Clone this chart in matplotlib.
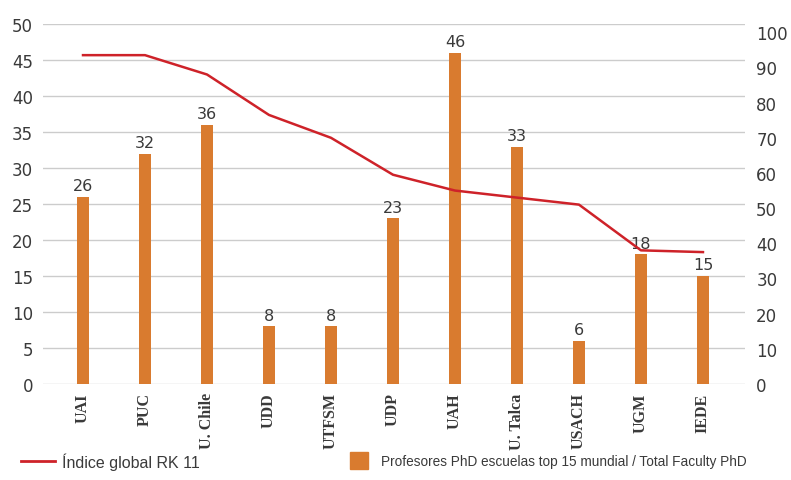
import matplotlib
matplotlib.use("Agg")
import matplotlib.pyplot as plt
from matplotlib.lines import Line2D
from matplotlib.patches import Rectangle

# data
schools = ["UAI", "PUC", "U. Chile", "UDD", "UTFSM", "UDP", "UAH", "U. Talca", "USACH", "UGM", "IEDE"]
phd_top15 = [26, 32, 36, 8, 8, 23, 46, 33, 6, 18, 15]
indice_rk11 = [93.5, 93.5, 88, 76.5, 70, 59.5, 55, 53, 51, 38, 37.5]

left_ticks = [0, 5, 10, 15, 20, 25, 30, 35, 40, 45, 50]
right_ticks = [0, 10, 20, 30, 40, 50, 60, 70, 80, 90, 100]

bar_color = "#D97B2F"
line_color = "#CE2229"
text_color = "#3a3a3a"
grid_color = "#cccccc"
legend_font = ["Liberation Sans", "DejaVu Sans"]

fig = plt.figure(figsize=(7.91, 4.81), dpi=100)
ax = fig.add_axes([0.054, 0.1996, 0.888, 0.748])
x = list(range(len(schools)))

ax.bar(x, phd_top15, width=0.2, color=bar_color, zorder=2)
for xi, v in zip(x, phd_top15):
    ax.text(xi, v + 0.5, str(v), ha="center", va="bottom", fontsize=11.5,
            color=text_color, zorder=4)

ax.set_ylim(0, 50)
ax.set_xlim(-0.65, 10.68)
ax.set_yticks(left_ticks)
ax.set_yticklabels([str(t) for t in left_ticks], fontsize=12, color=text_color)
ax.yaxis.grid(True, color=grid_color, linewidth=1.0, zorder=0)
ax.set_axisbelow(True)
ax.tick_params(axis="y", length=0, pad=7)
ax.set_xticks(x)
ax.set_xticklabels(schools, rotation=90, fontsize=11.5, fontweight="bold",
                   family="Liberation Serif", color=text_color)
ax.tick_params(axis="x", length=0, pad=6)
for s in ax.spines.values():
    s.set_visible(False)

# right scale sits a little lower than the left gridlines in the original
ax2 = ax.twinx()
ax2.plot(x, indice_rk11, color=line_color, linewidth=1.8, zorder=3)
ax2.set_ylim(0, 102.3)
ax2.set_yticks(right_ticks)
ax2.set_yticklabels([str(t) for t in right_ticks], fontsize=12, color=text_color)
ax2.tick_params(axis="y", length=0, pad=8)
for s in ax2.spines.values():
    s.set_visible(False)

# legend along the bottom
fig.add_artist(Line2D([0.026, 0.07], [0.04, 0.04], color=line_color, linewidth=2))
fig.text(0.078, 0.04, "Índice global RK 11", fontsize=11.5, color=text_color,
         va="center", family=legend_font)
fig.add_artist(Rectangle((0.443, 0.022), 0.022, 0.036, color=bar_color))
fig.text(0.482, 0.04, "Profesores PhD escuelas top 15 mundial / Total Faculty PhD",
         fontsize=9.8, color=text_color, va="center", family=legend_font)

fig.savefig("out.png", dpi=100, facecolor="white")
